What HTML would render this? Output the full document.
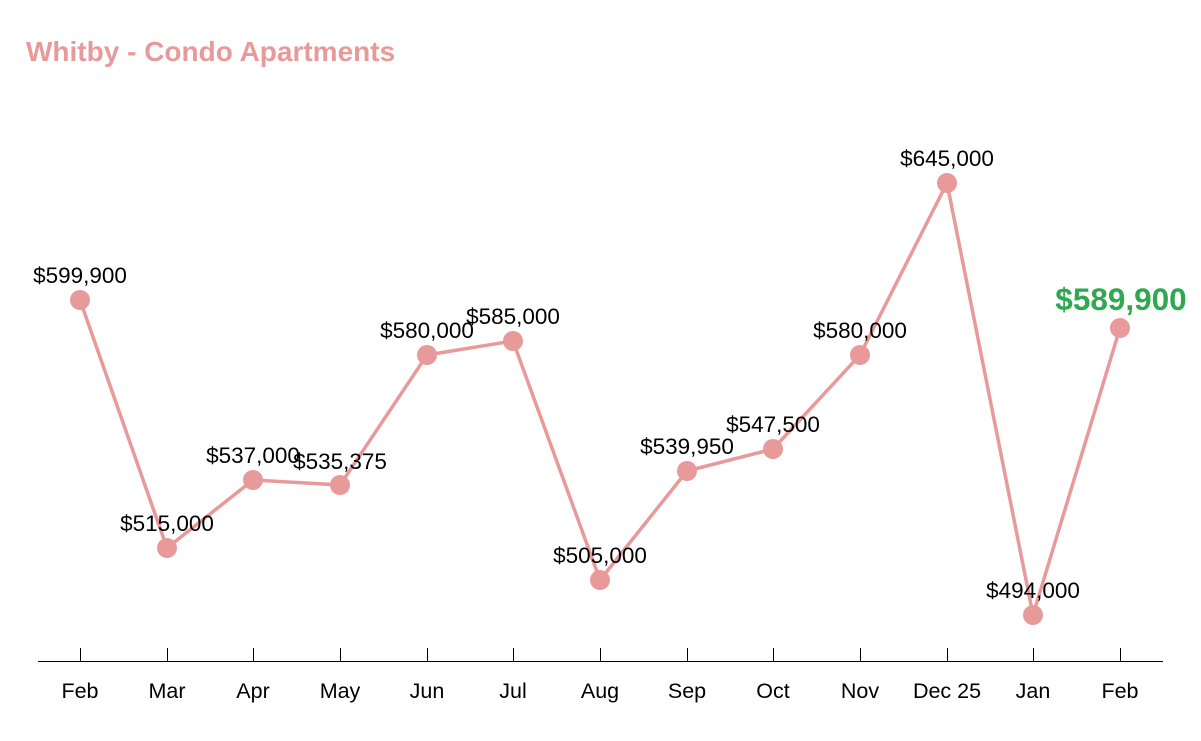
<!DOCTYPE html>
<html><head><meta charset="utf-8"><style>
html,body{margin:0;padding:0;background:#fff;}
svg{display:block;font-family:"Liberation Sans",Arial,sans-serif;}
</style></head><body>
<svg width="1201" height="741" viewBox="0 0 1201 741" xmlns="http://www.w3.org/2000/svg">
<text x="26" y="61" font-size="28" font-weight="bold" fill="#e89a9a">Whitby - Condo Apartments</text>
<line x1="38" y1="661.5" x2="1163" y2="661.5" stroke="#000" stroke-width="1"/>
<g stroke="#000" stroke-width="1">
<line x1="80.5" y1="648" x2="80.5" y2="661"/><line x1="167.5" y1="648" x2="167.5" y2="661"/><line x1="253.5" y1="648" x2="253.5" y2="661"/><line x1="340.5" y1="648" x2="340.5" y2="661"/><line x1="427.5" y1="648" x2="427.5" y2="661"/><line x1="513.5" y1="648" x2="513.5" y2="661"/><line x1="600.5" y1="648" x2="600.5" y2="661"/><line x1="687.5" y1="648" x2="687.5" y2="661"/><line x1="773.5" y1="648" x2="773.5" y2="661"/><line x1="860.5" y1="648" x2="860.5" y2="661"/><line x1="947.5" y1="648" x2="947.5" y2="661"/><line x1="1033.5" y1="648" x2="1033.5" y2="661"/><line x1="1120.5" y1="648" x2="1120.5" y2="661"/>
</g>
<g font-size="21.5" fill="#000" text-anchor="middle">
<text x="80" y="698">Feb</text><text x="167" y="698">Mar</text><text x="253" y="698">Apr</text><text x="340" y="698">May</text><text x="427" y="698">Jun</text><text x="513" y="698">Jul</text><text x="600" y="698">Aug</text><text x="687" y="698">Sep</text><text x="773" y="698">Oct</text><text x="860" y="698">Nov</text><text x="947" y="698">Dec 25</text><text x="1033" y="698">Jan</text><text x="1120" y="698">Feb</text>
</g>
<polyline fill="none" stroke="#e89a9a" stroke-width="3.5" stroke-linejoin="round" points="80,300 167,548 253,480 340,485 427,355 513,341 600,580 687,471 773,449 860,355 947,183 1033,615 1120,328"/>
<g fill="#e89a9a">
<circle cx="80" cy="300" r="10"/><circle cx="167" cy="548" r="10"/><circle cx="253" cy="480" r="10"/><circle cx="340" cy="485" r="10"/><circle cx="427" cy="355" r="10"/><circle cx="513" cy="341" r="10"/><circle cx="600" cy="580" r="10"/><circle cx="687" cy="471" r="10"/><circle cx="773" cy="449" r="10"/><circle cx="860" cy="355" r="10"/><circle cx="947" cy="183" r="10"/><circle cx="1033" cy="615" r="10"/><circle cx="1120" cy="328" r="10"/>
</g>
<g font-size="22.5" fill="#000" text-anchor="middle">
<text x="80" y="283">$599,900</text><text x="167" y="531">$515,000</text><text x="253" y="463">$537,000</text><text x="340" y="469">$535,375</text><text x="427" y="338">$580,000</text><text x="513" y="324">$585,000</text><text x="600" y="563">$505,000</text><text x="687" y="454">$539,950</text><text x="773" y="432">$547,500</text><text x="860" y="338">$580,000</text><text x="947" y="166">$645,000</text><text x="1033" y="598">$494,000</text>
</g>
<text x="1121" y="310" font-size="31.5" font-weight="bold" fill="#2fa84f" text-anchor="middle">$589,900</text>
</svg>
</body></html>
